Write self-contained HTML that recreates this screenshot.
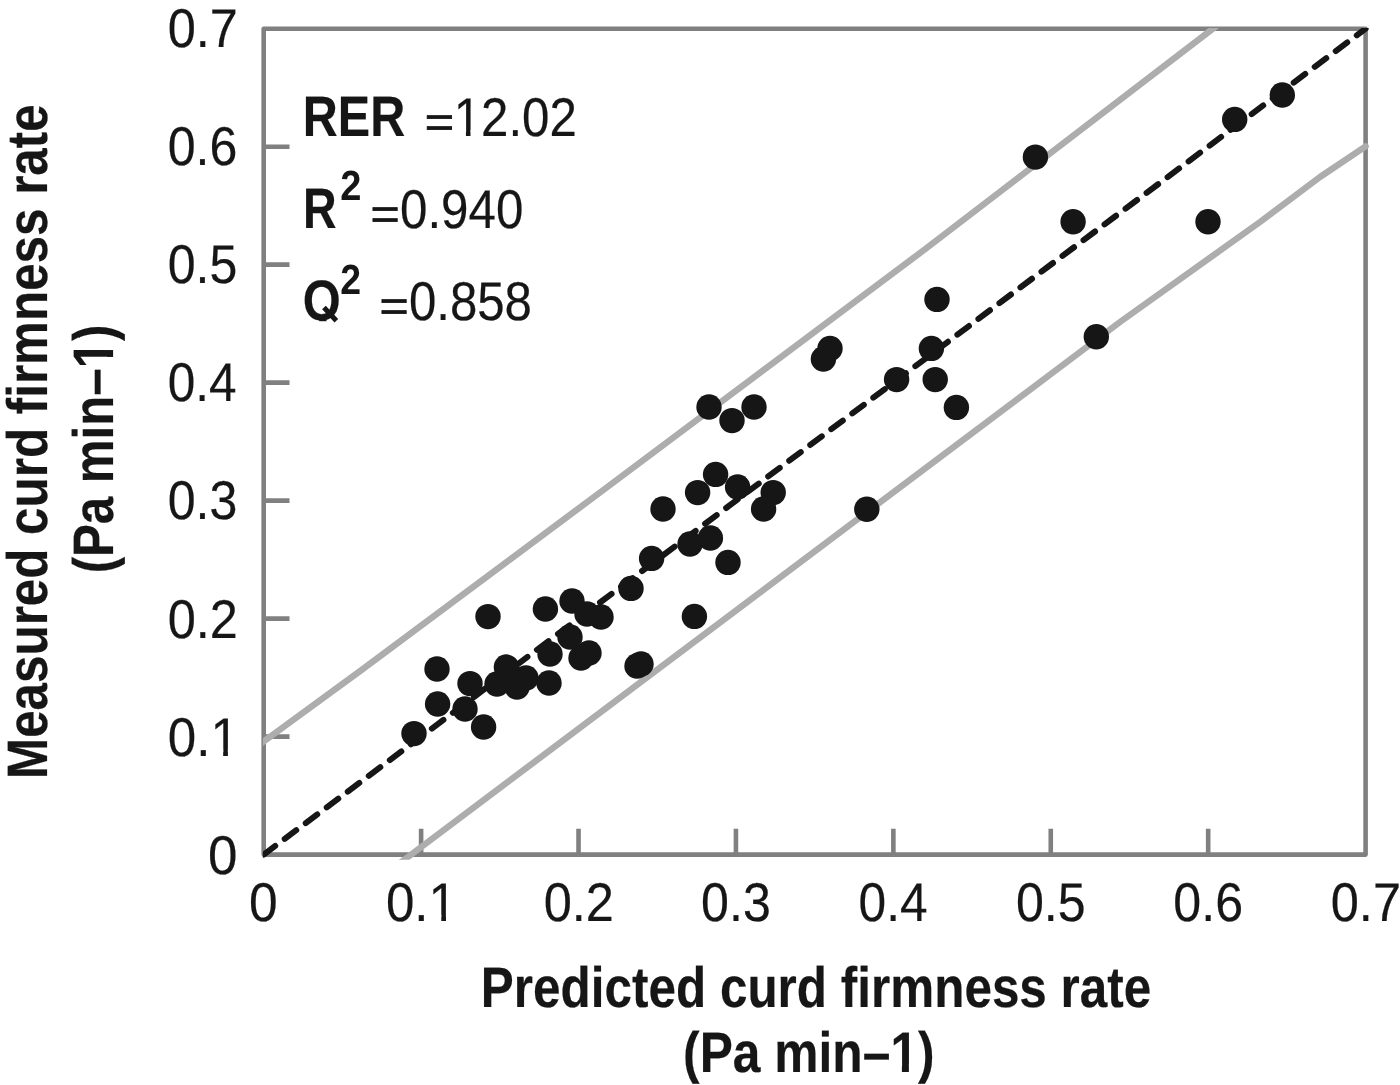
<!DOCTYPE html>
<html lang="en"><head><meta charset="utf-8"><title>Predicted vs measured curd firmness rate</title>
<style>html,body{margin:0;padding:0;background:#fff}body{width:1400px;height:1085px;overflow:hidden}svg{display:block}text{font-family:"Liberation Sans",sans-serif;fill:#161616;text-rendering:geometricPrecision}</style></head><body>
<svg width="1400" height="1085" viewBox="0 0 1400 1085">
<defs><clipPath id="cp"><rect x="262.9" y="28.1" width="1130" height="831.6"/></clipPath></defs>
<rect width="1400" height="1085" fill="#fff"/>
<rect x="263.70" y="28.70" width="1101.90" height="825.90" fill="none" stroke="#808080" stroke-width="4.60" stroke-linejoin="round"/>
<path d="M263.70 736.61H289.50M421.11 854.60V828.70M263.70 618.63H289.50M578.53 854.60V828.70M263.70 500.64H289.50M735.94 854.60V828.70M263.70 382.66H289.50M893.36 854.60V828.70M263.70 264.67H289.50M1050.77 854.60V828.70M263.70 146.69H289.50M1208.19 854.60V828.70" fill="none" stroke="#808080" stroke-width="4.60"/>
<polyline clip-path="url(#cp)" points="255.0,747.8 263.0,742.0 360.0,671.1 600.0,492.5 924.0,250.0 1213.6,28.1 1226.0,18.6" fill="none" stroke="#adadad" stroke-width="6.4" stroke-linecap="round" stroke-linejoin="round"/>
<polyline clip-path="url(#cp)" points="395.5,866.3 404.3,859.7 1120.0,322.0 1260.0,222.0 1320.0,177.0 1365.6,146.4" fill="none" stroke="#adadad" stroke-width="6.4" stroke-linecap="round" stroke-linejoin="round"/>
<line clip-path="url(#cp)" x1="263.70" y1="854.60" x2="1365.60" y2="28.70" stroke="#161616" stroke-width="6" stroke-linecap="round" stroke-dasharray="14.4 11.87"/>
<g fill="#161616">
<circle cx="414.0" cy="733.6" r="12.7"/>
<circle cx="437.6" cy="704.0" r="12.7"/>
<circle cx="437.0" cy="669.0" r="12.7"/>
<circle cx="465.0" cy="709.0" r="12.7"/>
<circle cx="470.0" cy="683.6" r="12.7"/>
<circle cx="483.6" cy="727.0" r="12.7"/>
<circle cx="488.0" cy="616.6" r="12.7"/>
<circle cx="497.0" cy="684.0" r="12.7"/>
<circle cx="506.4" cy="667.0" r="12.7"/>
<circle cx="517.0" cy="687.0" r="12.7"/>
<circle cx="526.0" cy="678.0" r="12.7"/>
<circle cx="549.0" cy="683.0" r="12.7"/>
<circle cx="550.0" cy="654.0" r="12.7"/>
<circle cx="545.4" cy="609.0" r="12.7"/>
<circle cx="572.0" cy="601.0" r="12.7"/>
<circle cx="587.0" cy="614.0" r="12.7"/>
<circle cx="601.0" cy="617.0" r="12.7"/>
<circle cx="570.0" cy="637.0" r="12.7"/>
<circle cx="581.0" cy="658.0" r="12.7"/>
<circle cx="589.0" cy="653.0" r="12.7"/>
<circle cx="631.0" cy="588.4" r="12.7"/>
<circle cx="637.0" cy="666.0" r="12.7"/>
<circle cx="641.0" cy="664.0" r="12.7"/>
<circle cx="651.6" cy="558.4" r="12.7"/>
<circle cx="663.0" cy="509.0" r="12.7"/>
<circle cx="690.0" cy="544.0" r="12.7"/>
<circle cx="710.4" cy="538.0" r="12.7"/>
<circle cx="728.0" cy="562.4" r="12.7"/>
<circle cx="697.6" cy="492.6" r="12.7"/>
<circle cx="715.6" cy="474.4" r="12.7"/>
<circle cx="737.6" cy="487.0" r="12.7"/>
<circle cx="773.2" cy="492.6" r="12.7"/>
<circle cx="763.6" cy="509.0" r="12.7"/>
<circle cx="709.0" cy="407.0" r="12.7"/>
<circle cx="732.0" cy="420.6" r="12.7"/>
<circle cx="754.0" cy="407.0" r="12.7"/>
<circle cx="866.8" cy="509.2" r="12.7"/>
<circle cx="694.4" cy="616.4" r="12.7"/>
<circle cx="823.4" cy="359.0" r="12.7"/>
<circle cx="830.0" cy="348.4" r="12.7"/>
<circle cx="896.6" cy="379.6" r="12.7"/>
<circle cx="931.4" cy="348.4" r="12.7"/>
<circle cx="935.2" cy="379.6" r="12.7"/>
<circle cx="937.0" cy="299.4" r="12.7"/>
<circle cx="956.4" cy="407.4" r="12.7"/>
<circle cx="1035.4" cy="157.1" r="12.7"/>
<circle cx="1073.1" cy="221.8" r="12.7"/>
<circle cx="1208.0" cy="221.8" r="12.7"/>
<circle cx="1234.7" cy="119.4" r="12.7"/>
<circle cx="1282.3" cy="95.0" r="12.7"/>
<circle cx="1096.3" cy="336.7" r="12.7"/>
</g>
<text transform="translate(207.96 873.80) scale(0.9714 1)" font-size="54.50" font-weight="normal" stroke="#161616" stroke-width="0.20" stroke-linejoin="round">0</text>
<g transform="translate(167.82 755.66) scale(0.9378 1)"><text font-size="54.50" font-weight="normal" stroke="#161616" stroke-width="0.20" stroke-linejoin="round">0.1</text><rect x="47.99" y="-6.17" width="11.05" height="7.77" fill="#fff"/><rect x="64.06" y="-6.17" width="10.63" height="7.77" fill="#fff"/></g>
<text transform="translate(167.65 637.52) scale(0.9254 1)" font-size="54.50" font-weight="normal" stroke="#161616" stroke-width="0.20" stroke-linejoin="round">0.2</text>
<text transform="translate(167.66 519.38) scale(0.9189 1)" font-size="54.50" font-weight="normal" stroke="#161616" stroke-width="0.20" stroke-linejoin="round">0.3</text>
<text transform="translate(167.68 401.24) scale(0.9093 1)" font-size="54.50" font-weight="normal" stroke="#161616" stroke-width="0.20" stroke-linejoin="round">0.4</text>
<text transform="translate(167.66 283.10) scale(0.9189 1)" font-size="54.50" font-weight="normal" stroke="#161616" stroke-width="0.20" stroke-linejoin="round">0.5</text>
<text transform="translate(167.66 164.96) scale(0.9189 1)" font-size="54.50" font-weight="normal" stroke="#161616" stroke-width="0.20" stroke-linejoin="round">0.6</text>
<text transform="translate(167.65 46.82) scale(0.9254 1)" font-size="54.50" font-weight="normal" stroke="#161616" stroke-width="0.20" stroke-linejoin="round">0.7</text>
<text transform="translate(249.11 920.80) scale(0.9448 1)" font-size="54.50" font-weight="normal" stroke="#161616" stroke-width="0.20" stroke-linejoin="round">0</text>
<g transform="translate(385.92 920.80) scale(0.9378 1)"><text font-size="54.50" font-weight="normal" stroke="#161616" stroke-width="0.20" stroke-linejoin="round">0.1</text><rect x="47.99" y="-6.17" width="11.05" height="7.77" fill="#fff"/><rect x="64.06" y="-6.17" width="10.63" height="7.77" fill="#fff"/></g>
<text transform="translate(543.68 920.80) scale(0.9268 1)" font-size="54.50" font-weight="normal" stroke="#161616" stroke-width="0.20" stroke-linejoin="round">0.2</text>
<text transform="translate(701.10 920.80) scale(0.9203 1)" font-size="54.50" font-weight="normal" stroke="#161616" stroke-width="0.20" stroke-linejoin="round">0.3</text>
<text transform="translate(858.54 920.80) scale(0.9107 1)" font-size="54.50" font-weight="normal" stroke="#161616" stroke-width="0.20" stroke-linejoin="round">0.4</text>
<text transform="translate(1015.93 920.80) scale(0.9203 1)" font-size="54.50" font-weight="normal" stroke="#161616" stroke-width="0.20" stroke-linejoin="round">0.5</text>
<text transform="translate(1173.35 920.80) scale(0.9203 1)" font-size="54.50" font-weight="normal" stroke="#161616" stroke-width="0.20" stroke-linejoin="round">0.6</text>
<text transform="translate(1330.75 920.80) scale(0.9268 1)" font-size="54.50" font-weight="normal" stroke="#161616" stroke-width="0.20" stroke-linejoin="round">0.7</text>
<text transform="translate(480.85 1007.00) scale(0.8674 1)" font-size="57.00" font-weight="bold" stroke="#161616" stroke-width="0.20" stroke-linejoin="round">Predicted curd firmness rate</text>
<g transform="translate(683.10 1071.90) scale(0.8725 1)"><text font-size="57.00" font-weight="bold" stroke="#161616" stroke-width="0.20" stroke-linejoin="round">(Pa min–1)</text><rect x="239.55" y="-7.92" width="11.21" height="9.52" fill="#fff"/><rect x="258.79" y="-7.92" width="10.49" height="9.52" fill="#fff"/></g>
<text transform="translate(47.00 778.95) rotate(-90) scale(0.8657 1)" font-size="57.00" font-weight="bold" stroke="#161616" stroke-width="0.20" stroke-linejoin="round">Measured curd firmness rate</text>
<g transform="translate(112.70 573.37) rotate(-90) scale(0.8630 1)"><text font-size="57.00" font-weight="bold" stroke="#161616" stroke-width="0.20" stroke-linejoin="round">(Pa min–1)</text><rect x="239.55" y="-7.92" width="11.21" height="9.52" fill="#fff"/><rect x="258.79" y="-7.92" width="10.49" height="9.52" fill="#fff"/></g>
<text transform="translate(302.81 136.40) scale(0.8502 1)" font-size="57.00" font-weight="bold" stroke="#161616" stroke-width="0.20" stroke-linejoin="round">RER</text>
<text transform="translate(424.83 137.02) scale(0.9211 0.807)" font-size="54.50" font-weight="normal" stroke="#161616" stroke-width="0.95" stroke-linejoin="round">=</text>
<g transform="translate(453.65 136.40) scale(0.9035 1)"><text font-size="54.50" font-weight="normal" stroke="#161616" stroke-width="0.20" stroke-linejoin="round">12.02</text><rect x="2.55" y="-6.17" width="11.05" height="7.77" fill="#fff"/><rect x="18.62" y="-6.17" width="10.63" height="7.77" fill="#fff"/></g>
<text transform="translate(302.94 228.30) scale(0.8166 1)" font-size="57.00" font-weight="bold" stroke="#161616" stroke-width="0.20" stroke-linejoin="round">R</text>
<g style="mix-blend-mode:multiply"><text transform="translate(340.14 200.40) scale(0.9037 1)" font-size="42.10" font-weight="bold">2</text></g>
<text transform="translate(370.54 228.92) scale(0.9174 0.807)" font-size="54.50" font-weight="normal" stroke="#161616" stroke-width="0.95" stroke-linejoin="round">=</text>
<text transform="translate(399.99 228.30) scale(0.9043 1)" font-size="54.50" font-weight="normal" stroke="#161616" stroke-width="0.20" stroke-linejoin="round">0.940</text>
<g transform="translate(302.78 320.20) scale(0.8553 1)"><text font-size="57.00" font-weight="bold" stroke="#161616" stroke-width="0.20" stroke-linejoin="round">Q</text><rect x="16.70" y="1.01" width="25.05" height="14" fill="#fff"/></g><line x1="323.95" y1="307.56" x2="336.34" y2="320.67" stroke="#161616" stroke-width="5"/>
<g style="mix-blend-mode:multiply"><text transform="translate(340.17 294.00) scale(0.8889 1)" font-size="42.10" font-weight="bold">2</text></g>
<text transform="translate(379.44 320.82) scale(0.9174 0.807)" font-size="54.50" font-weight="normal" stroke="#161616" stroke-width="0.95" stroke-linejoin="round">=</text>
<text transform="translate(408.90 320.20) scale(0.9023 1)" font-size="54.50" font-weight="normal" stroke="#161616" stroke-width="0.20" stroke-linejoin="round">0.858</text>
</svg></body></html>
